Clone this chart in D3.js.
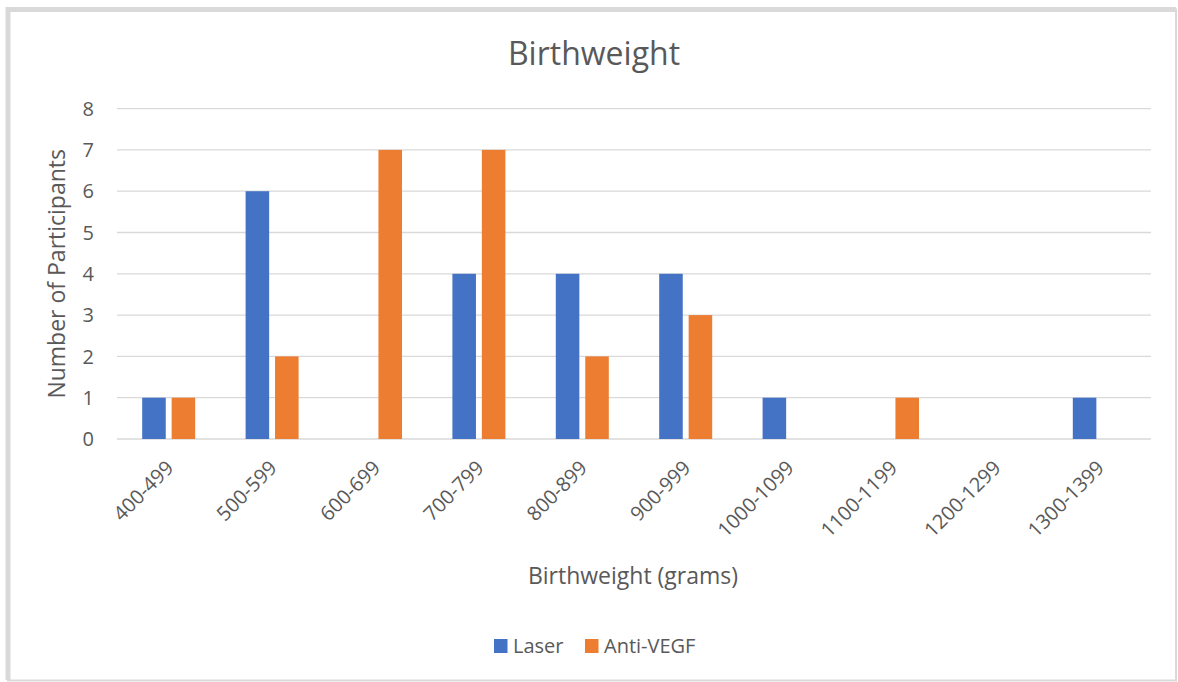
<!DOCTYPE html>
<html>
<head>
<meta charset="utf-8">
<script src="https://cdn.jsdelivr.net/npm/d3@7"></script>
<style>
  body { margin: 0; background: #fff; }
  text { font-family: "Open Sans", sans-serif; fill: #595959; }
</style>
</head>
<body>
<div id="chart"></div>
<script>
const categories = ["400-499", "500-599", "600-699", "700-799", "800-899", "900-999",
  "1000-1099", "1100-1199", "1200-1299", "1300-1399"];
const laser = [1, 6, 0, 4, 4, 4, 1, 0, 0, 1];
const antiVegf = [1, 2, 7, 7, 2, 3, 0, 1, 0, 0];
const seriesNames = ["Laser", "Anti-VEGF"];
const yTicks = [0, 1, 2, 3, 4, 5, 6, 7, 8];

const colors = { "Laser": "#4472C4", "Anti-VEGF": "#ED7D31" };
const width = 1178, height = 682;
const plot = { left: 117, right: 1151, top: 108.6, bottom: 439 };

const svg = d3.select("#chart").append("svg")
  .attr("width", width)
  .attr("height", height);

// frame
svg.append("rect")
  .attr("x", 8).attr("y", 9.5)
  .attr("width", 1168).attr("height", 671)
  .attr("fill", "none").attr("stroke", "#d9d9d9").attr("stroke-width", 2);
svg.append("path")
  .attr("d", "M8,680 V9.5 H1176")
  .attr("fill", "none").attr("stroke", "#d9d9d9").attr("stroke-width", 5);

const x0 = d3.scaleBand().domain(categories).range([plot.left, plot.right]);
const x1 = d3.scaleBand().domain(seriesNames)
  .range([(x0.bandwidth() - 53) / 2, (x0.bandwidth() + 53) / 2])
  .paddingInner(0.2);
const y = d3.scaleLinear().domain([0, 8]).range([plot.bottom, plot.top]);

// gridlines
svg.append("g")
  .selectAll("line")
  .data(yTicks)
  .join("line")
  .attr("x1", plot.left).attr("x2", plot.right)
  .attr("y1", d => y(d)).attr("y2", d => y(d))
  .attr("stroke", "#d9d9d9").attr("stroke-width", 1.3);

// y axis labels
svg.append("g")
  .selectAll("text")
  .data(yTicks)
  .join("text")
  .attr("x", 94).attr("y", d => y(d))
  .attr("dy", "0.36em")
  .attr("text-anchor", "end")
  .style("font-size", "20px")
  .text(d => d);

const rows = categories.map((c, i) => ({ category: c, Laser: laser[i], "Anti-VEGF": antiVegf[i] }));

svg.append("g")
  .selectAll("g")
  .data(rows)
  .join("g")
  .attr("transform", d => `translate(${x0(d.category)},0)`)
  .selectAll("rect")
  .data(d => seriesNames.map(s => ({ key: s, value: d[s] })).filter(d => d.value > 0))
  .join("rect")
  .attr("x", d => x1(d.key))
  .attr("width", x1.bandwidth())
  .attr("y", d => y(d.value))
  .attr("height", d => y(0) - y(d.value))
  .attr("fill", d => colors[d.key]);

// x labels
svg.append("g")
  .selectAll("text")
  .data(categories)
  .join("text")
  .attr("transform", d => `translate(${x0(d) + x0.bandwidth() / 2 + 1},${plot.bottom + 25}) rotate(-45)`)
  .attr("text-anchor", "end")
  .attr("dy", "0.36em")
  .style("font-size", "20px")
  .text(d => d);

// title
svg.append("text")
  .attr("x", 594).attr("y", 65)
  .attr("text-anchor", "middle")
  .style("font-size", "32px")
  .text("Birthweight");

// axis titles
svg.append("text")
  .attr("transform", `translate(65,${(plot.top + plot.bottom) / 2}) rotate(-90)`)
  .attr("text-anchor", "middle")
  .style("font-size", "23px")
  .text("Number of Participants");

svg.append("text")
  .attr("x", 633).attr("y", 584)
  .attr("text-anchor", "middle")
  .style("font-size", "23px")
  .text("Birthweight (grams)");

// legend
const legendItems = [{ name: "Laser", x: 494 }, { name: "Anti-VEGF", x: 585 }];
const legend = svg.append("g")
  .selectAll("g")
  .data(legendItems)
  .join("g")
  .attr("transform", d => `translate(${d.x},646)`);
legend.append("rect")
  .attr("x", 0).attr("y", -7)
  .attr("width", 13.5).attr("height", 14)
  .attr("fill", d => colors[d.name]);
legend.append("text")
  .attr("x", 19).attr("y", 0)
  .attr("dy", "0.36em")
  .style("font-size", "20px")
  .text(d => d.name);
</script>
</body>
</html>
